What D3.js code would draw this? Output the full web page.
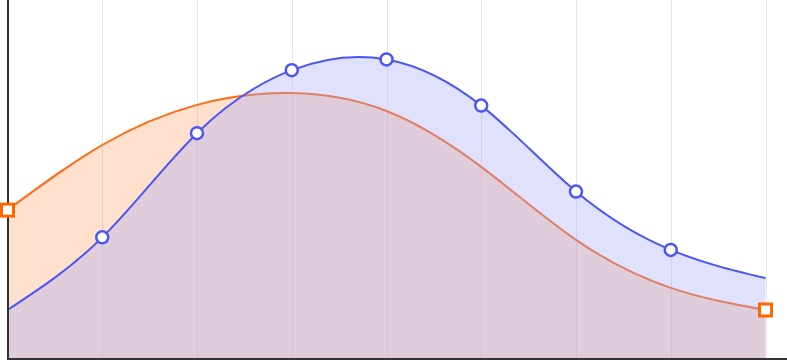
<!DOCTYPE html>
<html>
<head>
<meta charset="utf-8">
<script src="https://cdn.jsdelivr.net/npm/d3@7"></script>
<style>
  html, body { margin: 0; padding: 0; background: #fff; }
  svg { display: block; }
</style>
</head>
<body>
<script>
// x positions (no tick labels are drawn on the chart)
var steps = [0, 1, 2, 3, 4, 5, 6, 7, 8];

// values, 0..100 scale
var blueValues = [13.4, 33.7, 62.8, 80.4, 83.4, 70.5, 46.5, 30.2, 22.3];
var orangeValues = [41.3, 59.5, 70.7, 74.0, 69.0, 53.4, 33.0, 19.6, 13.4];

var width = 787,
    height = 360;

var svg = d3.select("body")
  .append("svg")
  .attr("width", width)
  .attr("height", height);

var x = d3.scaleLinear()
  .domain([0, 8])
  .range([7.5, 765.5]);

var y = d3.scaleLinear()
  .domain([0, 100])
  .range([358, 0]);

var curve = d3.curveNatural;

// vertical grid
svg.selectAll(".grid")
  .data(steps.slice(1))
  .enter()
  .append("line")
  .attr("x1", d => Math.round(x(d)) + 0.5)
  .attr("x2", d => Math.round(x(d)) + 0.5)
  .attr("y1", 0)
  .attr("y2", y(0))
  .style("stroke", "#e6e6e6")
  .style("stroke-width", 1);

function area(values) {
  return d3.area()
    .x((d, i) => x(steps[i]))
    .y0(y(0))
    .y1(d => y(d))
    .curve(curve)(values);
}

function line(values) {
  return d3.line()
    .x((d, i) => x(steps[i]))
    .y(d => y(d))
    .curve(curve)(values);
}

svg.append("path")
  .attr("d", area(orangeValues))
  .attr("fill", "rgba(255,102,0,0.2)");

svg.append("path")
  .attr("d", line(orangeValues))
  .attr("fill", "none")
  .attr("stroke", "#ff6a10")
  .attr("stroke-width", 2);

svg.append("path")
  .attr("d", area(blueValues))
  .attr("fill", "rgba(165,168,249,0.35)");

svg.append("path")
  .attr("d", line(blueValues))
  .attr("fill", "none")
  .attr("stroke", "#4a55f5")
  .attr("stroke-width", 2);

// axes: plain lines, no ticks
svg.append("line")
  .attr("x1", 8).attr("x2", 8)
  .attr("y1", 0).attr("y2", 360)
  .style("stroke", "#333")
  .style("stroke-width", 2);

svg.append("line")
  .attr("x1", 7).attr("x2", width)
  .attr("y1", 359).attr("y2", 359)
  .style("stroke", "#333")
  .style("stroke-width", 2);

// blue markers (inner points only)
svg.selectAll(".dot")
  .data(blueValues.slice(1, -1))
  .enter()
  .append("circle")
  .attr("cx", (d, i) => x(steps[i + 1]))
  .attr("cy", d => y(d))
  .attr("r", 6)
  .attr("fill", "#fff")
  .attr("stroke", "#4a55f5")
  .attr("stroke-width", 2.5);

// orange markers at both ends
var ends = [0, orangeValues.length - 1];
svg.selectAll(".sq")
  .data(ends)
  .enter()
  .append("rect")
  .attr("x", i => x(steps[i]) - 6)
  .attr("y", i => y(orangeValues[i]) - 6)
  .attr("width", 12)
  .attr("height", 12)
  .attr("fill", "#fff")
  .attr("stroke", "#ff6600")
  .attr("stroke-width", 3);
</script>
</body>
</html>
